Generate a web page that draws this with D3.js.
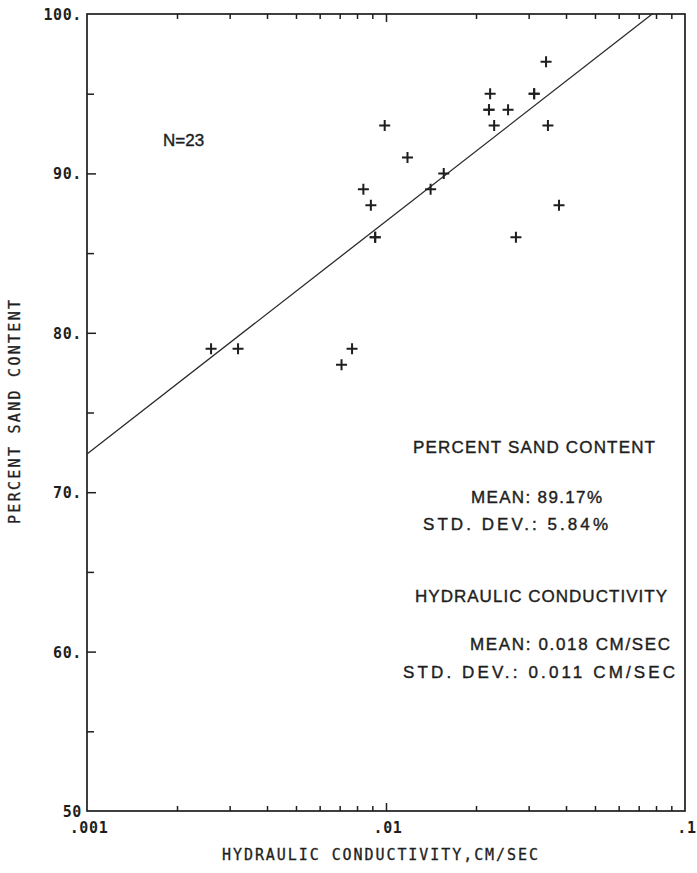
<!DOCTYPE html>
<html>
<head>
<meta charset="utf-8">
<script src="https://cdn.jsdelivr.net/npm/d3@7"></script>
<style>
  html, body { margin: 0; padding: 0; background: #fff; }
  svg { display: block; }
</style>
</head>
<body>
<svg id="chart" width="697" height="873"></svg>
<script>
// ---- data ----
const conductivity = [0.0026, 0.0032, 0.0077, 0.0071, 0.0084, 0.0089, 0.0092, 0.0092,
  0.0099, 0.0118, 0.0141, 0.0156, 0.0223, 0.0221, 0.0221, 0.0230, 0.0256, 0.0272,
  0.0313, 0.0313, 0.0343, 0.0348, 0.0379];
const sandPercent = [79, 79, 79, 78, 89, 88, 86, 86, 93, 91, 89, 90, 95, 94, 94, 93,
  94, 86, 95, 95, 97, 93, 88];

// regression line: sand = fitIntercept + fitSlope * (log10(K) + 3)
const fitIntercept = 72.4;
const fitSlope = 14.6;

const xTickValues = [0.001, 0.01, 0.1];
const xTickLabels = [".001", ".01", ".1"];
const yTickValues = [100, 90, 80, 70, 60, 50];
const yTickLabels = ["100.", "90.", "80.", "70.", "60.", "50"];
const yMinorTicks = [95, 85, 75, 65, 55];

const xTitle = "HYDRAULIC CONDUCTIVITY,CM/SEC";
const yTitle = "PERCENT SAND CONTENT";
const nLabel = "N=23";
const statLines = [
  "PERCENT SAND CONTENT",
  "MEAN: 89.17%",
  "STD. DEV.: 5.84%",
  "HYDRAULIC CONDUCTIVITY",
  "MEAN: 0.018 CM/SEC",
  "STD. DEV.: 0.011 CM/SEC"
];

// ---- layout ----
const ink = "#1e1e1e";
const svg = d3.select("#chart");
const x = d3.scaleLog().domain([0.001, 0.1]).range([87, 685]);
const y = d3.scaleLinear().domain([50, 100]).range([811, 14]);

const monoFont = "'DejaVu Sans Mono', 'Liberation Mono', monospace";
const sansFont = "'Liberation Sans', Arial, Helvetica, sans-serif";

// ticks via axes (inward)
const minorX = x.ticks().filter(v => xTickValues.indexOf(v) < 0);
function styleAxis(g) {
  g.select(".domain").remove();
  g.selectAll("line").attr("stroke", ink).attr("stroke-width", 1.5);
  g.selectAll("text").remove();
}
svg.append("g").attr("transform", `translate(0,${y(50)})`)
  .call(d3.axisBottom(x).tickValues(minorX).tickSize(-5).tickFormat("")).call(styleAxis);
svg.append("g").attr("transform", `translate(0,${y(50)})`)
  .call(d3.axisBottom(x).tickValues([0.01]).tickSize(-8).tickFormat("")).call(styleAxis);
svg.append("g").attr("transform", `translate(0,${y(100)})`)
  .call(d3.axisTop(x).tickValues(minorX).tickSize(-5).tickFormat("")).call(styleAxis);
svg.append("g").attr("transform", `translate(0,${y(100)})`)
  .call(d3.axisTop(x).tickValues([0.01]).tickSize(-8).tickFormat("")).call(styleAxis);
svg.append("g").attr("transform", `translate(${x(0.001)},0)`)
  .call(d3.axisLeft(y).tickValues(yMinorTicks).tickSize(-7).tickFormat("")).call(styleAxis);
svg.append("g").attr("transform", `translate(${x(0.001)},0)`)
  .call(d3.axisLeft(y).tickValues(yTickValues.slice(1, -1)).tickSize(-9).tickFormat("")).call(styleAxis);

// frame
svg.append("rect")
  .attr("x", x(0.001)).attr("y", y(100))
  .attr("width", x(0.1) - x(0.001)).attr("height", y(50) - y(100))
  .attr("fill", "none").attr("stroke", ink).attr("stroke-width", 1.7);

// tick labels
svg.append("g").selectAll("text").data(yTickValues).join("text")
  .attr("x", x(0.001) - 5)
  .attr("y", d => y(d) + 6)
  .attr("text-anchor", "end")
  .attr("font-family", monoFont).attr("font-weight", "bold")
  .attr("font-size", 15).attr("letter-spacing", 0.6)
  .attr("fill", ink)
  .text((d, i) => yTickLabels[i]);

svg.append("g").selectAll("text").data(xTickValues).join("text")
  .attr("x", d => x(d) + 2)
  .attr("y", 833)
  .attr("text-anchor", "middle")
  .attr("font-family", monoFont).attr("font-weight", "bold")
  .attr("font-size", 15).attr("letter-spacing", 0.6)
  .attr("fill", ink)
  .text((d, i) => xTickLabels[i]);

// axis titles
svg.append("text")
  .attr("x", 222).attr("y", 860)
  .attr("font-family", monoFont).attr("font-size", 15)
  .attr("textLength", 316).attr("lengthAdjust", "spacing")
  .attr("stroke", ink).attr("stroke-width", 0.3)
  .attr("fill", ink).text(xTitle);

svg.append("text")
  .attr("transform", "translate(20,412) rotate(-90)")
  .attr("x", -112).attr("y", 0)
  .attr("font-family", monoFont).attr("font-size", 15)
  .attr("textLength", 224).attr("lengthAdjust", "spacing")
  .attr("stroke", ink).attr("stroke-width", 0.3)
  .attr("fill", ink).text(yTitle);

// regression line, clipped to the frame
const kTop = Math.pow(10, (100 - fitIntercept) / fitSlope - 3);
const kEnd = Math.min(kTop, 0.1);
const fitPts = [0.001, kEnd].map(k => [k, fitIntercept + fitSlope * (Math.log10(k) + 3)]);
svg.append("path")
  .attr("d", d3.line().x(d => x(d[0])).y(d => y(d[1]))(fitPts))
  .attr("fill", "none").attr("stroke", "#2a2a2a").attr("stroke-width", 1.3);

// data crosses
const arm = 5.5;
const pts = conductivity.map((k, i) => ({ k, s: sandPercent[i] }));
svg.append("g").selectAll("path").data(pts).join("path")
  .attr("d", d => {
    const cx = x(d.k), cy = y(d.s);
    return `M${cx - arm},${cy}H${cx + arm}M${cx},${cy - arm}V${cy + arm}`;
  })
  .attr("fill", "none").attr("stroke", ink).attr("stroke-width", 2);

// annotations
svg.append("text")
  .attr("x", 163).attr("y", 146)
  .attr("font-family", sansFont).attr("font-size", 17)
  .attr("stroke", ink).attr("stroke-width", 0.4)
  .attr("fill", ink).text(nLabel);

const statPos = [
  { x: 413, y: 453, w: 242 },
  { x: 471, y: 503, w: 131 },
  { x: 423, y: 530, w: 185 },
  { x: 415, y: 602, w: 252 },
  { x: 470, y: 650, w: 200 },
  { x: 403, y: 678, w: 272 }
];
svg.append("g").selectAll("text").data(statLines).join("text")
  .attr("x", (d, i) => statPos[i].x)
  .attr("y", (d, i) => statPos[i].y)
  .attr("textLength", (d, i) => statPos[i].w)
  .attr("lengthAdjust", "spacing")
  .attr("font-family", sansFont).attr("font-size", 17)
  .attr("stroke", ink).attr("stroke-width", 0.4)
  .attr("fill", ink)
  .text(d => d);
</script>
</body>
</html>
